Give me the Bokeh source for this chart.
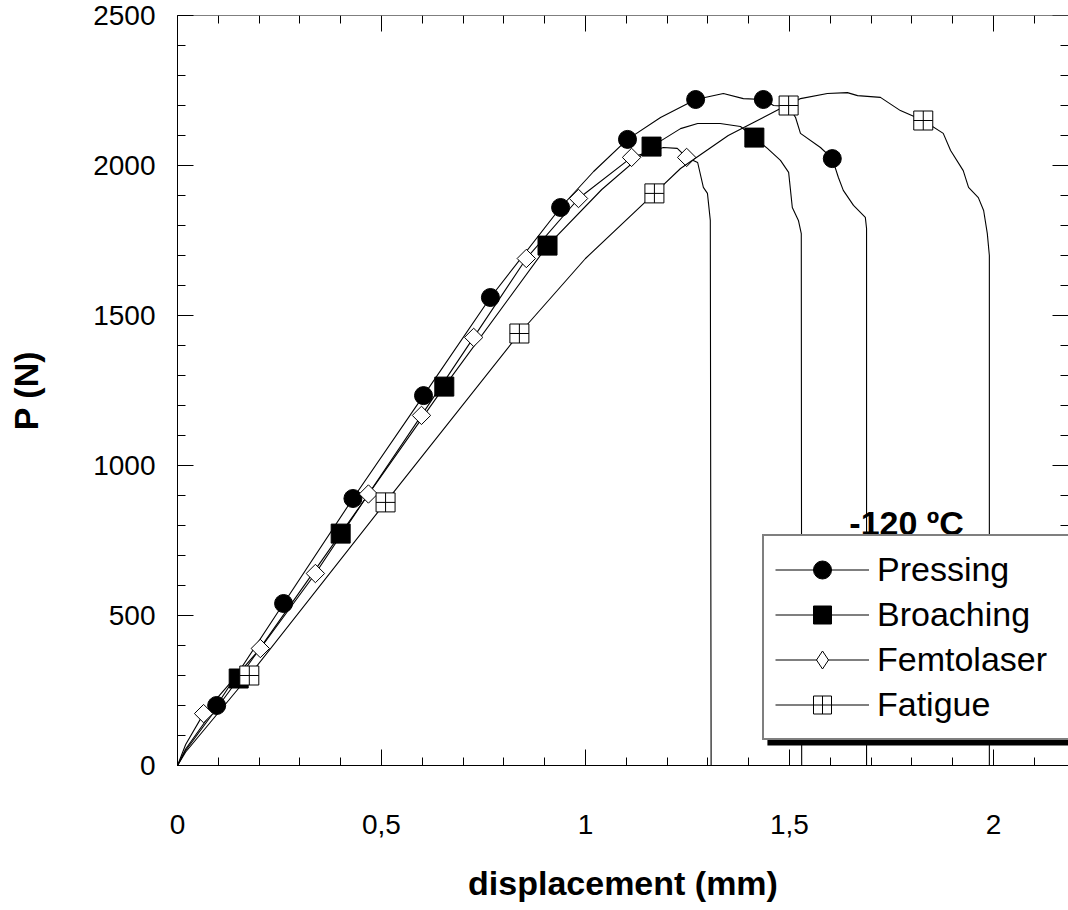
from bokeh.plotting import figure
from bokeh.models import (LinearAxis, FixedTicker, Range1d, Legend, LegendItem, Label,
                          BoxAnnotation, CustomJSTickFormatter)
from bokeh.embed import file_html
from bokeh.resources import INLINE

FONT = "Liberation Sans"

# ---------------- data (displacement mm, load N) ----------------
pressing_x = [0, 0.02, 0.096, 0.26, 0.43, 0.603, 0.767, 0.939, 1.02, 1.103, 1.184, 1.27, 1.338,
              1.387, 1.436, 1.461, 1.498, 1.515, 1.527, 1.576, 1.605, 1.620, 1.632, 1.657, 1.686,
              1.689, 1.689]
pressing_y = [0, 55, 200, 540, 890, 1233, 1560, 1860, 1980, 2087, 2160, 2220, 2240,
              2223, 2220, 2200, 2197, 2160, 2107, 2060, 2023, 1960, 1917, 1867, 1827,
              1790, 0]
pressing_mx = [0.096, 0.26, 0.43, 0.603, 0.767, 0.939, 1.103, 1.27, 1.436, 1.605]
pressing_my = [200, 540, 890, 1233, 1560, 1860, 2087, 2220, 2220, 2023]

broaching_x = [0, 0.02, 0.150, 0.40, 0.654, 0.907, 1.04, 1.162, 1.233, 1.275, 1.33, 1.380,
               1.414, 1.446, 1.478, 1.498, 1.507, 1.522, 1.529, 1.530]
broaching_y = [0, 50, 290, 773, 1263, 1733, 1920, 2063, 2123, 2140, 2140, 2130,
               2093, 2057, 2017, 1977, 1860, 1817, 1773, 0]
broaching_mx = [0.150, 0.40, 0.654, 0.907, 1.162, 1.414]
broaching_my = [290, 773, 1263, 1733, 2063, 2093]

femto_x = [0, 0.02, 0.064, 0.203, 0.338, 0.468, 0.598, 0.726, 0.855, 0.983, 1.113, 1.191,
           1.225, 1.248, 1.275, 1.289, 1.299, 1.306, 1.308]
femto_y = [0, 70, 173, 390, 640, 905, 1167, 1427, 1690, 1890, 2027, 2060,
           2057, 2027, 2010, 1927, 1907, 1817, 0]
femto_mx = [0.064, 0.203, 0.338, 0.468, 0.598, 0.726, 0.855, 0.983, 1.113, 1.248]
femto_my = [173, 390, 640, 905, 1167, 1427, 1690, 1890, 2027, 2027]

fatigue_x = [0, 0.02, 0.176, 0.51, 0.838, 1.0, 1.169, 1.233, 1.35, 1.478, 1.498, 1.527, 1.593,
             1.642, 1.667, 1.723, 1.772, 1.828, 1.877, 1.895, 1.926, 1.939, 1.963, 1.976,
             1.985, 1.990, 1.990]
fatigue_y = [0, 45, 300, 877, 1440, 1690, 1907, 1990, 2100, 2190, 2200, 2223, 2240,
             2243, 2233, 2227, 2183, 2150, 2107, 2050, 1983, 1927, 1893, 1850,
             1773, 1700, 0]
fatigue_mx = [0.176, 0.51, 0.838, 1.169, 1.498, 1.828]
fatigue_my = [300, 877, 1440, 1907, 2200, 2150]

x_ticks = [0, 0.5, 1, 1.5, 2]
y_ticks = [0, 500, 1000, 1500, 2000, 2500]
x_minor = [i / 10 for i in range(0, 22)]
y_minor = [i * 100 for i in range(0, 26)]

series_names = ["Pressing", "Broaching", "Femtolaser", "Fatigue"]
temperature_label = "-120 ºC"

X_END = 2.184
Y_END = 2500

# ---------------- figure ----------------
p = figure(width=1068, height=910, x_range=Range1d(0, X_END), y_range=Range1d(0, Y_END),
           output_backend="svg", toolbar_location=None,
           min_border_left=177, min_border_right=0, min_border_top=15, min_border_bottom=145)
p.outline_line_color = None
p.xgrid.visible = False
p.ygrid.visible = False
p.background_fill_color = "white"
p.border_fill_color = "white"

def style_axis(ax):
    ax.axis_line_color = "black"
    ax.axis_line_width = 1
    ax.major_tick_in = 16
    ax.major_tick_out = 0
    ax.minor_tick_in = 8
    ax.minor_tick_out = 0
    ax.major_tick_line_color = "black"
    ax.minor_tick_line_color = "black"
    ax.major_label_text_font = FONT
    ax.major_label_text_font_size = "28px"
    ax.major_label_text_color = "black"
    ax.axis_label_text_font = FONT
    ax.axis_label_text_font_size = "34px"
    ax.axis_label_text_font_style = "bold"
    ax.axis_label_text_color = "black"

xax = p.xaxis[0]
yax = p.yaxis[0]
xax.ticker = FixedTicker(ticks=x_ticks, minor_ticks=x_minor)
yax.ticker = FixedTicker(ticks=y_ticks, minor_ticks=y_minor)
xax.formatter = CustomJSTickFormatter(code="return tick.toString().replace('.', ',');")
style_axis(xax)
style_axis(yax)
xax.axis_label = "displacement (mm)"
yax.axis_label = "P (N)"
xax.major_label_standoff = 49
yax.major_label_standoff = 22
xax.axis_label_standoff = 27
yax.axis_label_standoff = 45

# top and right frame ticks: label-free axes (only minor-type ticks, which carry no labels)
def tick_only_axis(loc, positions, length, show_line):
    ax = LinearAxis(fixed_location=loc, ticker=FixedTicker(ticks=[], minor_ticks=positions))
    ax.major_tick_in = 0
    ax.major_tick_out = 0
    ax.minor_tick_in = length
    ax.minor_tick_out = 0
    ax.minor_tick_line_color = "black"
    ax.axis_line_color = "black" if show_line else None
    return ax

p.add_layout(tick_only_axis(Y_END, x_ticks, 16, True), "above")
p.add_layout(tick_only_axis(Y_END, [v for v in x_minor if v not in x_ticks], 8, False), "above")
p.add_layout(tick_only_axis(X_END, y_ticks, 16, False), "right")
p.add_layout(tick_only_axis(X_END, [v for v in y_minor if v not in y_ticks], 8, False), "right")

# ---------------- series ----------------
lw = 1.1
pl = p.line(pressing_x, pressing_y, line_color="black", line_width=lw)
ps = p.scatter(pressing_mx, pressing_my, marker="circle", size=18,
               fill_color="black", line_color="black")
bl = p.line(broaching_x, broaching_y, line_color="black", line_width=lw)
bs = p.scatter(broaching_mx, broaching_my, marker="square", size=19,
               fill_color="black", line_color="black")
fl = p.line(femto_x, femto_y, line_color="black", line_width=lw)
# diamond glyph used for the legend sample; hidden under the rotated squares on the plot
fd = p.scatter(femto_mx, femto_my, marker="diamond", size=16,
               fill_color="white", line_color="black", line_width=1)
fs = p.scatter(femto_mx, femto_my, marker="square", size=13, angle=0.785398,
               fill_color="white", line_color="black", line_width=1)
gl = p.line(fatigue_x, fatigue_y, line_color="black", line_width=lw)
gs = p.scatter(fatigue_mx, fatigue_my, marker="square_cross", size=19,
               fill_color="white", line_color="black", line_width=1)

# ---------------- annotation ----------------
p.add_layout(Label(x=1.787, y=807, text=temperature_label, text_align="center",
                   text_baseline="alphabetic", text_font=FONT, text_font_style="bold",
                   text_font_size="34px", text_color="black"))

shadow = BoxAnnotation(left=1.446, right=X_END, bottom=66.7, top=740,
                       fill_color="black", fill_alpha=1, line_color=None)
p.add_layout(shadow)

legend = Legend(items=[LegendItem(label=series_names[0], renderers=[pl, ps]),
                       LegendItem(label=series_names[1], renderers=[bl, bs]),
                       LegendItem(label=series_names[2], renderers=[fl, fd]),
                       LegendItem(label=series_names[3], renderers=[gl, gs])],
                location=(585, 25), margin=0, padding=11, spacing=0,
                glyph_width=94, glyph_height=45, label_height=45, label_width=181,
                label_standoff=8,
                border_line_color="black", border_line_width=2,
                background_fill_color="white", background_fill_alpha=1,
                label_text_font=FONT, label_text_font_size="34px", label_text_color="black")
p.add_layout(legend)

open("out.html", "w").write(file_html(p, INLINE))
